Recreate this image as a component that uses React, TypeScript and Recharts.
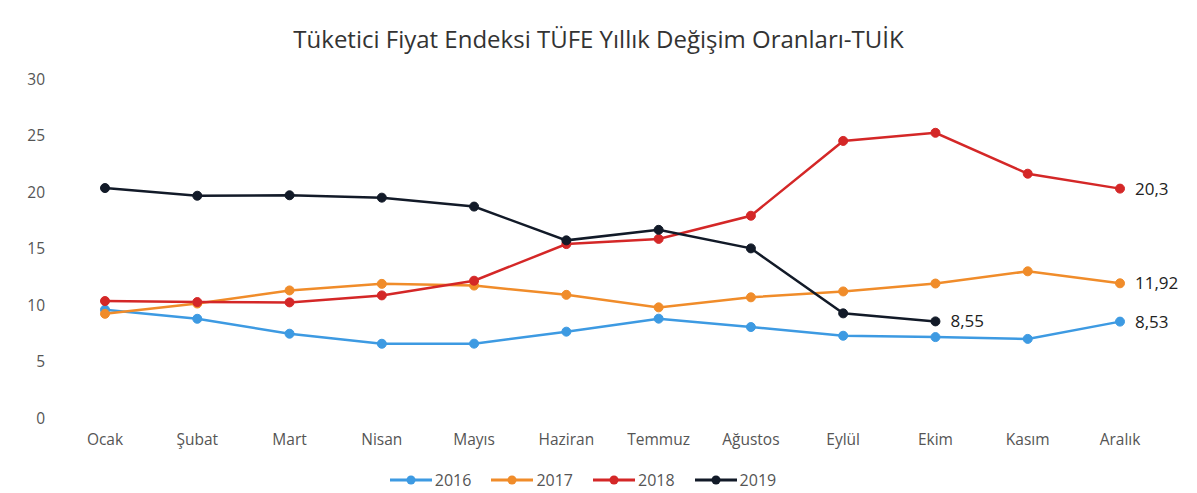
import React from 'react';
import { LineChart, Line, XAxis, YAxis, Legend, LabelList } from 'recharts';

const months = ['Ocak', 'Şubat', 'Mart', 'Nisan', 'Mayıs', 'Haziran', 'Temmuz', 'Ağustos', 'Eylül', 'Ekim', 'Kasım', 'Aralık'];
const y2016 = [9.58, 8.78, 7.46, 6.57, 6.58, 7.64, 8.79, 8.05, 7.28, 7.16, 7.0, 8.53];
const y2017 = [9.22, 10.13, 11.29, 11.87, 11.72, 10.9, 9.79, 10.68, 11.2, 11.9, 12.98, 11.92];
const y2018 = [10.35, 10.26, 10.23, 10.85, 12.15, 15.39, 15.85, 17.9, 24.52, 25.24, 21.62, 20.3];
const y2019 = [20.35, 19.67, 19.71, 19.5, 18.71, 15.72, 16.65, 15.01, 9.26, 8.55];
const yTicks = [0, 5, 10, 15, 20, 25, 30];

const series = [
  { key: 'y2016', name: '2016', color: '#3d9ae2', values: y2016 },
  { key: 'y2017', name: '2017', color: '#f08c2a', values: y2017 },
  { key: 'y2018', name: '2018', color: '#d42727', values: y2018 },
  { key: 'y2019', name: '2019', color: '#121a28', values: y2019 },
];

const data = months.map((m, i) => {
  const row: Record<string, string | number | null> = { month: m };
  series.forEach((s) => {
    row[s.key] = i < s.values.length ? s.values[i] : null;
  });
  return row;
});

const font = '"Open Sans", sans-serif';

const endLabel = (lastIndex: number) => (props: any) => {
  const { x, y, value, index } = props;
  if (index !== lastIndex || value == null) return null;
  return (
    <text x={x + 15} y={y + 6} fontSize={17} fill="#222" fontFamily={font}>
      {String(value).replace('.', ',')}
    </text>
  );
};

const renderLegend = () => (
  <div
    style={{
      display: 'flex',
      justifyContent: 'center',
      gap: 20,
      paddingTop: 6,
      fontFamily: font,
      fontSize: 16,
      color: '#555',
    }}
  >
    {series.map((s) => (
      <div key={s.key} style={{ display: 'flex', alignItems: 'center', gap: 3 }}>
        <svg width={42} height={14}>
          <line x1={0} y1={7} x2={42} y2={7} stroke={s.color} strokeWidth={3} />
          <circle cx={21} cy={7} r={4.5} fill={s.color} />
        </svg>
        <span>{s.name}</span>
      </div>
    ))}
  </div>
);

export default function App() {
  return (
    <div style={{ position: 'absolute', top: 0, left: 0, width: 1197, height: 493, background: '#fff' }}>
      <div
        style={{
          position: 'absolute',
          top: 22,
          left: 0,
          width: 1197,
          textAlign: 'center',
          fontFamily: font,
          fontSize: 24,
          color: '#333',
        }}
      >
        Tüketici Fiyat Endeksi TÜFE Yıllık Değişim Oranları-TUİK
      </div>
      <LineChart width={1197} height={493} data={data} margin={{ top: 79, right: 31, bottom: 0, left: 0 }}>
        <XAxis
          dataKey="month"
          axisLine={false}
          tickLine={false}
          tickSize={0}
          tickMargin={16}
          height={45}
          interval={0}
          padding={{ left: 46, right: 46 }}
          tick={{ fontSize: 15.5, fill: '#555', fontFamily: font }}
        />
        <YAxis
          domain={[0, 30]}
          ticks={yTicks}
          axisLine={false}
          tickLine={false}
          tickSize={0}
          tickMargin={14}
          width={59}
          tick={{ fontSize: 15.5, fill: '#555', fontFamily: font }}
        />
        <Legend verticalAlign="bottom" height={30} content={renderLegend} />
        {series.map((s) => (
          <Line
            key={s.key}
            dataKey={s.key}
            name={s.name}
            stroke={s.color}
            strokeWidth={2.5}
            dot={{ r: 4.5, fill: s.color, stroke: s.color, strokeWidth: 1 }}
            activeDot={false}
            isAnimationActive={false}
            connectNulls={false}
          >
            <LabelList dataKey={s.key} content={endLabel(s.values.length - 1)} />
          </Line>
        ))}
      </LineChart>
    </div>
  );
}
